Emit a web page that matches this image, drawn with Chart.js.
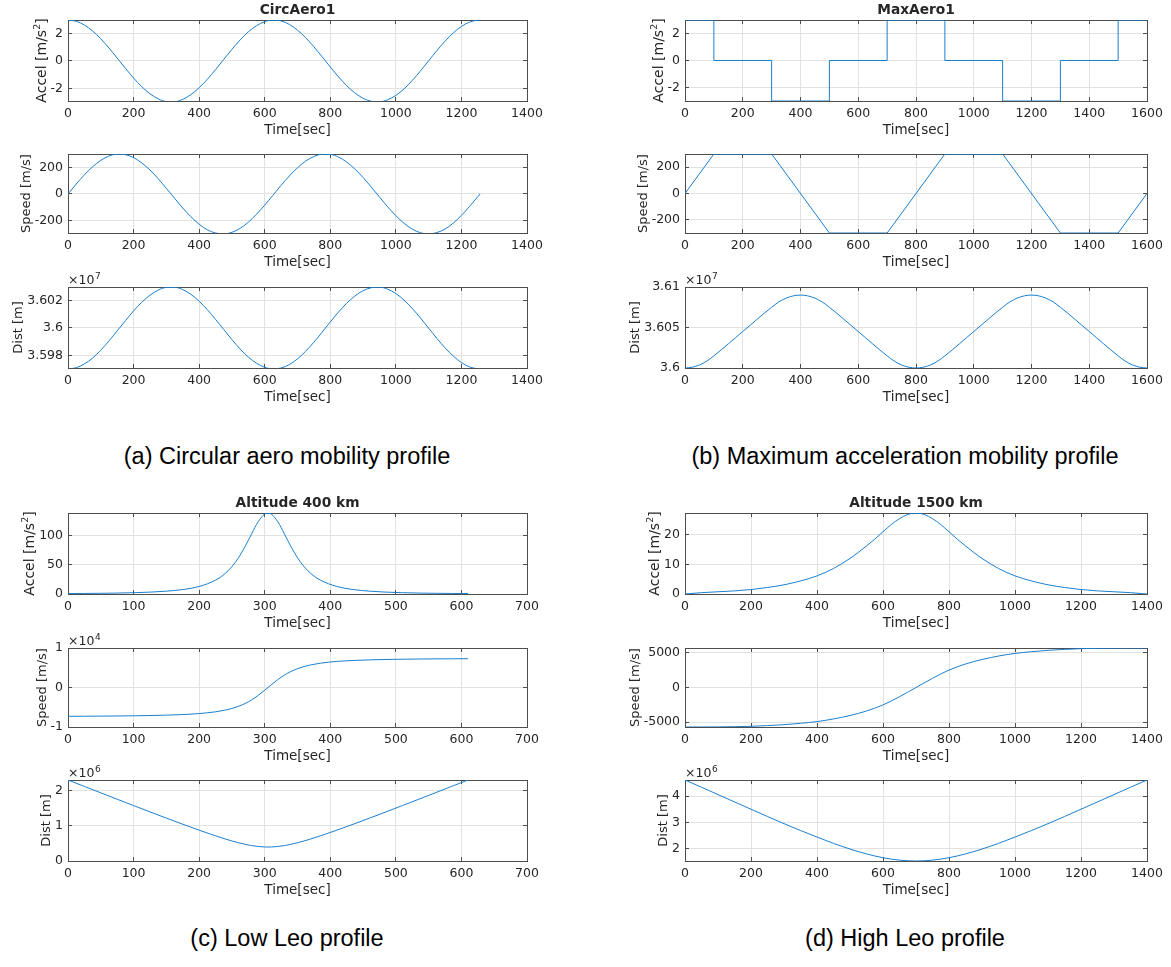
<!DOCTYPE html>
<html>
<head>
<meta charset="utf-8">
<script src="https://cdn.jsdelivr.net/npm/chart.js@4.4.1/dist/chart.umd.min.js"></script>
<style>
    html, body { margin: 0; padding: 0; background: #fff; }
    body { position: relative; width: 1171px; height: 967px; overflow: hidden; }
    .plot { position: absolute; }
    .cap {
        position: absolute;
        font-family: "Liberation Sans", Arial, sans-serif;
        font-size: 23.5px;
        line-height: 26px;
        color: #000;
        white-space: nowrap;
        transform: translateX(-50%);
    }
</style>
</head>
<body>
<div class="cap" style="left:287px;top:443px">(a) Circular aero mobility profile</div>
<div class="cap" style="left:905px;top:443px">(b) Maximum acceleration mobility profile</div>
<div class="cap" style="left:287px;top:925px">(c) Low Leo profile</div>
<div class="cap" style="left:905px;top:925px">(d) High Leo profile</div>
<script>
// ---- (a) CircAero1 ----
const circTime = [0, 25, 50, 75, 100, 125, 150, 175, 200, 225, 250, 275, 300, 325, 350, 375, 400, 425, 450, 475,
    500, 525, 550, 575, 600, 625, 650, 675, 700, 725, 750, 775, 800, 825, 850, 875, 900, 925, 950, 975,
    1000, 1025, 1050, 1075, 1100, 1125, 1150, 1175, 1200, 1225, 1250, 1257];
const circAccel = [3.00, 2.91, 2.63, 2.20, 1.62, 0.95, 0.21, -0.53, -1.25, -1.88, -2.40, -2.77, -2.97, -2.98, -2.81, -2.46, -1.96, -1.34, -0.63, 0.11,
    0.85, 1.54, 2.13, 2.58, 2.88, 3.00, 2.93, 2.68, 2.26, 1.70, 1.04, 0.31, -0.44, -1.16, -1.81, -2.34, -2.73, -2.95, -2.99, -2.84,
    -2.52, -2.04, -1.43, -0.73, 0.01, 0.76, 1.45, 2.05, 2.53, 2.85, 2.99, 3.00];
const circSpeed = [0, 74, 144, 204, 252, 285, 299, 295, 273, 233, 180, 115, 42, -32, -105, -171, -227, -269, -293, -300,
    -288, -258, -212, -152, -84, -10, 65, 135, 197, 247, 281, 298, 297, 277, 240, 187, 124, 52, -23, -96,
    -163, -220, -264, -291, -300, -290, -263, -219, -161, -93, -20, 0];
const circDist = [35970000, 35970900, 35973700, 35978000, 35983800, 35990500, 35997900, 36005300, 36012500, 36018800,
    36024000, 36027700, 36029700, 36029800, 36028100, 36024600, 36019600, 36013400, 36006300, 35998900,
    35991500, 35984600, 35978700, 35974200, 35971200, 35970000, 35970700, 35973200, 35977400, 35983000,
    35989600, 35996900, 36004400, 36011600, 36018100, 36023400, 36027300, 36029500, 36029900, 36028400,
    36025200, 36020400, 36014300, 36007300, 35999900, 35992400, 35985500, 35979500, 35974700, 35971500,
    35970100, 35970000];

// ---- (b) MaxAero1 ----
const maxStepTime = [0, 100, 300, 500, 700, 900, 1100, 1300, 1500, 1600];
const maxAccel = [3, 0, -3, 0, 3, 0, -3, 0, 3, 3];
const maxSpeed = [0, 300, 300, -300, -300, 300, 300, -300, -300, 0];
const maxDistTime = [0, 25, 50, 75, 100, 200, 300, 325, 350, 375, 400, 425, 450, 475, 500, 600, 700, 725, 750, 775,
    800, 825, 850, 875, 900, 1000, 1100, 1125, 1150, 1175, 1200, 1225, 1250, 1275, 1300, 1400, 1500, 1525, 1550, 1575, 1600];
const maxDist = [36000000, 36000940, 36003750, 36008440, 36015000, 36045000, 36075000, 36081560, 36086250, 36089060,
    36090000, 36089060, 36086250, 36081560, 36075000, 36045000, 36015000, 36008440, 36003750, 36000940,
    36000000, 36000940, 36003750, 36008440, 36015000, 36045000, 36075000, 36081560, 36086250, 36089060,
    36090000, 36089060, 36086250, 36081560, 36075000, 36045000, 36015000, 36008440, 36003750, 36000940, 36000000];

// ---- (c) Altitude 400 km ----
const lowTime = [0, 25, 50, 75, 100, 125, 150, 175, 200, 225, 240, 250, 260, 270, 280, 290, 300, 305,
    310, 320, 330, 340, 350, 360, 370, 385, 410, 435, 460, 485, 510, 535, 560, 585, 610];
const lowAccel = [0.71, 0.91, 1.19, 1.60, 2.22, 3.19, 4.79, 7.60, 12.9, 23.7, 35.4, 46.8, 62.0, 81.1, 102.9, 123.7, 136.8, 138.6,
    136.8, 123.7, 102.9, 81.1, 62.0, 46.8, 35.4, 23.7, 12.9, 7.60, 4.79, 3.19, 2.22, 1.60, 1.19, 0.91, 0.71];
const lowSpeed = [-7289, -7269, -7243, -7208, -7161, -7095, -6997, -6846, -6597, -6155, -5719, -5311, -4770, -4058, -3138, -2002, -690, 0,
    690, 2002, 3138, 4058, 4770, 5311, 5719, 6155, 6597, 6846, 6997, 7095, 7161, 7208, 7243, 7269, 7289];
const lowDist = [2291000, 2109000, 1928000, 1747000, 1568000, 1389000, 1213000, 1040000, 872000, 712000, 622000, 567000,
    517000, 472000, 436000, 410000, 397000, 395000, 397000, 410000, 436000, 472000, 517000, 567000, 622000, 712000,
    872000, 1040000, 1213000, 1389000, 1568000, 1747000, 1928000, 2109000, 2291000];

// ---- (d) Altitude 1500 km ----
const highAccelTime = [0, 50, 100, 150, 200, 250, 300, 350, 400, 450, 500, 525, 550, 575, 600, 625, 650, 675, 700,
    725, 750, 775, 800, 825, 850, 875, 900, 950, 1000, 1050, 1100, 1150, 1200, 1250, 1300, 1350, 1400];
const highAccel = [0, 0.45, 0.75, 1.05, 1.5, 2.2, 3.1, 4.4, 6.1, 8.6, 12.0, 14.0, 16.2, 18.5, 21.0, 23.4, 25.4, 26.8, 27.3,
    26.8, 25.4, 23.4, 21.0, 18.5, 16.2, 14.0, 12.0, 8.6, 6.1, 4.4, 3.1, 2.2, 1.5, 1.05, 0.75, 0.45, 0];
const highTime = [0, 50, 100, 150, 200, 250, 300, 350, 400, 450, 500, 550, 600, 650, 700,
    750, 800, 850, 900, 950, 1000, 1050, 1100, 1150, 1200, 1250, 1300, 1350, 1400];
const highSpeed = [-5714, -5710, -5700, -5670, -5620, -5510, -5380, -5180, -4930, -4550, -4050, -3400, -2520, -1330, 0,
    1330, 2520, 3400, 4050, 4550, 4930, 5180, 5380, 5510, 5620, 5670, 5700, 5710, 5714];
const highDist = [4610000, 4335000, 4055000, 3775000, 3500000, 3220000, 2950000, 2690000, 2440000, 2200000, 1985000,
    1800000, 1655000, 1562000, 1530000, 1562000, 1655000, 1800000, 1985000, 2200000, 2440000, 2690000, 2950000,
    3220000, 3500000, 3775000, 4055000, 4335000, 4610000];

// tick values
const circTimeTicks = [0, 200, 400, 600, 800, 1000, 1200, 1400];
const maxTimeTicks = [0, 200, 400, 600, 800, 1000, 1200, 1400, 1600];
const lowTimeTicks = [0, 100, 200, 300, 400, 500, 600, 700];
const highTimeTicks = [0, 200, 400, 600, 800, 1000, 1200, 1400];
const accel3Ticks = [-2, 0, 2];
const speed300Ticks = [-200, 0, 200];
const circDistTicks = [35980000, 36000000, 36020000];
const maxDistTicks = [36000000, 36050000, 36100000];
const lowAccelTicks = [0, 50, 100];
const lowSpeedTicks = [-10000, 0, 10000];
const lowDistTicks = [0, 1000000, 2000000];
const highAccelTicks = [0, 10, 20];
const highSpeedTicks = [-5000, 0, 5000];
const highDistTicks = [2000000, 3000000, 4000000];

const FONT = "'DejaVu Sans', sans-serif";
const TXT = '#262626';
const BOX = '#4d4d4d';
const GRID = '#e2e2e2';
const LINE = '#1a7fcf';
const TICK_SIZE = 12.5;

function fmt(v) {
    return String(Number(v.toFixed(4)));
}

// MATLAB style box + inward ticks (under the data), then ylabel, exponent and title
const matlabAxes = {
    id: 'matlabAxes',
    beforeDatasetsDraw(chart) {
        const {ctx, chartArea: a, scales: {x, y}} = chart;
        const al = p => Math.round(p - 0.5) + 0.5;
        ctx.save();
        ctx.strokeStyle = BOX;
        ctx.lineWidth = 1;
        ctx.beginPath();
        x.ticks.forEach(t => {
            const p = al(x.getPixelForValue(t.value));
            ctx.moveTo(p, a.bottom); ctx.lineTo(p, a.bottom - 4);
            ctx.moveTo(p, a.top); ctx.lineTo(p, a.top + 4);
        });
        y.ticks.forEach(t => {
            const p = al(y.getPixelForValue(t.value));
            ctx.moveTo(a.left, p); ctx.lineTo(a.left + 4, p);
            ctx.moveTo(a.right, p); ctx.lineTo(a.right - 4, p);
        });
        ctx.stroke();
        ctx.strokeRect(a.left + 0.5, a.top + 0.5, a.width, a.height);
        ctx.restore();
    },
    afterDraw(chart, args, opts) {
        const {ctx, chartArea: a, scales: {y}} = chart;
        ctx.save();
        ctx.fillStyle = TXT;
        if (opts.title) {
            ctx.font = 'bold 13.75px ' + FONT;
            ctx.textAlign = 'center';
            ctx.textBaseline = 'middle';
            ctx.fillText(opts.title, (a.left + a.right) / 2, a.top - 9.5);
        }
        if (opts.expo) {
            ctx.font = TICK_SIZE + 'px ' + FONT;
            ctx.textAlign = 'left';
            ctx.textBaseline = 'alphabetic';
            ctx.fillText('×10', a.left, a.top - 3);
            const w = ctx.measureText('×10').width;
            ctx.font = '9px ' + FONT;
            ctx.fillText(opts.expo, a.left + w + 0.5, a.top - 8.5);
        }
        // ylabel, pieces [text, superscript?]
        ctx.font = TICK_SIZE + 'px ' + FONT;
        const maxW = Math.max(...y.ticks.map(t => ctx.measureText(String(t.label)).width));
        const size = opts.yTitle.length > 1 ? 14 : 13;
        const supSize = 9.5;
        const widths = opts.yTitle.map((p, i) => {
            ctx.font = (i % 2 ? supSize : size) + 'px ' + FONT;
            return ctx.measureText(p).width;
        });
        const total = widths.reduce((s, w) => s + w, 0);
        ctx.translate(a.left - 5 - maxW - 1.5, (a.top + a.bottom) / 2);
        ctx.rotate(-Math.PI / 2);
        ctx.textAlign = 'left';
        ctx.textBaseline = 'alphabetic';
        let cx = -total / 2;
        opts.yTitle.forEach((p, i) => {
            const sup = i % 2 === 1;
            ctx.font = (sup ? supSize : size) + 'px ' + FONT;
            ctx.fillText(p, cx, sup ? -3.5 - size * 0.42 : -3.5);
            cx += widths[i];
        });
        ctx.restore();
    }
};

function subplot(s) {
    const L = s.left === 68 ? 68 : 120, T = 24, R = 30, B = 44;
    const W = L + s.w + R, H = T + s.h + B;
    const div = document.createElement('div');
    div.className = 'plot';
    div.style.left = (s.left - L) + 'px';
    div.style.top = (s.top - T) + 'px';
    div.style.width = W + 'px';
    div.style.height = H + 'px';
    const canvas = document.createElement('canvas');
    canvas.width = W;
    canvas.height = H;
    div.appendChild(canvas);
    document.body.appendChild(div);

    new Chart(canvas, {
        type: 'line',
        data: {
            datasets: [{
                data: s.xs.map((v, i) => ({x: v, y: s.ys[i]})),
                borderColor: LINE,
                borderWidth: 1,
                pointRadius: 0,
                fill: false,
                tension: 0,
                cubicInterpolationMode: s.smooth ? 'monotone' : 'default',
                stepped: s.stepped || false
            }]
        },
        options: {
            responsive: false,
            animation: false,
            devicePixelRatio: 1,
            events: [],
            layout: {padding: {top: T, right: R, left: 0, bottom: 0}},
            plugins: {
                legend: {display: false},
                tooltip: {enabled: false},
                matlabAxes: {title: s.title, expo: s.expo, yTitle: s.yTitle}
            },
            scales: {
                x: {
                    type: 'linear',
                    min: 0,
                    max: s.xTicks[s.xTicks.length - 1],
                    afterBuildTicks: ax => { ax.ticks = s.xTicks.map(v => ({value: v})); },
                    afterFit: ax => { ax.height = B; },
                    grid: {color: GRID, drawTicks: false},
                    border: {display: false},
                    ticks: {padding: 5, color: TXT, font: {family: FONT, size: TICK_SIZE}, maxRotation: 0, autoSkip: false,
                        callback: v => fmt(v)},
                    title: {display: true, text: 'Time[sec]', color: TXT, font: {family: FONT, size: 13.5},
                        padding: {top: 0, bottom: 6}}
                },
                y: {
                    type: 'linear',
                    min: s.yMin,
                    max: s.yMax,
                    afterBuildTicks: ax => { ax.ticks = s.yTicks.map(v => ({value: v})); },
                    afterFit: ax => { ax.width = L; },
                    grid: {color: GRID, drawTicks: false},
                    border: {display: false},
                    ticks: {padding: 5, color: TXT, font: {family: FONT, size: TICK_SIZE}, autoSkip: false,
                        callback: v => fmt(v / (s.div || 1))}
                }
            }
        },
        plugins: [matlabAxes]
    });
}

const ACC = ['Accel [m/s', '2', ']'], SPD = ['Speed [m/s]'], DST = ['Dist [m]'];

// (a)
subplot({left: 68, w: 459, top: 20, h: 81, xs: circTime, ys: circAccel, xTicks: circTimeTicks, yTicks: accel3Ticks,
    yMin: -2.93, yMax: 3, yTitle: ACC, title: 'CircAero1', smooth: true});
subplot({left: 68, w: 459, top: 154, h: 79, xs: circTime, ys: circSpeed, xTicks: circTimeTicks, yTicks: speed300Ticks,
    yMin: -293, yMax: 300, yTitle: SPD, smooth: true});
subplot({left: 68, w: 459, top: 287, h: 81, xs: circTime, ys: circDist, xTicks: circTimeTicks, yTicks: circDistTicks,
    yMin: 35970700, yMax: 36030000, yTitle: DST, expo: '7', div: 1e7, smooth: true});
// (b)
subplot({left: 685, w: 462, top: 20, h: 81, xs: maxStepTime, ys: maxAccel, xTicks: maxTimeTicks, yTicks: accel3Ticks,
    yMin: -3, yMax: 3, yTitle: ACC, title: 'MaxAero1', stepped: true});
subplot({left: 685, w: 462, top: 154, h: 79, xs: maxStepTime, ys: maxSpeed, xTicks: maxTimeTicks, yTicks: speed300Ticks,
    yMin: -300, yMax: 300, yTitle: SPD});
subplot({left: 685, w: 462, top: 287, h: 81, xs: maxDistTime, ys: maxDist, xTicks: maxTimeTicks, yTicks: maxDistTicks,
    yMin: 36000000, yMax: 36100000, yTitle: DST, expo: '7', div: 1e7, smooth: true});
// (c)
subplot({left: 68, w: 459, top: 513, h: 81, xs: lowTime, ys: lowAccel, xTicks: lowTimeTicks, yTicks: lowAccelTicks,
    yMin: 0, yMax: 138.6, yTitle: ACC, title: 'Altitude 400 km', smooth: true});
subplot({left: 68, w: 459, top: 648, h: 79, xs: lowTime, ys: lowSpeed, xTicks: lowTimeTicks, yTicks: lowSpeedTicks,
    yMin: -10000, yMax: 10000, yTitle: SPD, expo: '4', div: 1e4, smooth: true});
subplot({left: 68, w: 459, top: 780, h: 81, xs: lowTime, ys: lowDist, xTicks: lowTimeTicks, yTicks: lowDistTicks,
    yMin: 0, yMax: 2291000, yTitle: DST, expo: '6', div: 1e6, smooth: true});
// (d)
subplot({left: 685, w: 462, top: 513, h: 81, xs: highAccelTime, ys: highAccel, xTicks: highTimeTicks, yTicks: highAccelTicks,
    yMin: 0, yMax: 27.3, yTitle: ACC, title: 'Altitude 1500 km', smooth: true});
subplot({left: 685, w: 462, top: 648, h: 79, xs: highTime, ys: highSpeed, xTicks: highTimeTicks, yTicks: highSpeedTicks,
    yMin: -5714, yMax: 5714, yTitle: SPD, smooth: true});
subplot({left: 685, w: 462, top: 780, h: 81, xs: highTime, ys: highDist, xTicks: highTimeTicks, yTicks: highDistTicks,
    yMin: 1530000, yMax: 4610000, yTitle: DST, expo: '6', div: 1e6, smooth: true});
</script>
</body>
</html>
